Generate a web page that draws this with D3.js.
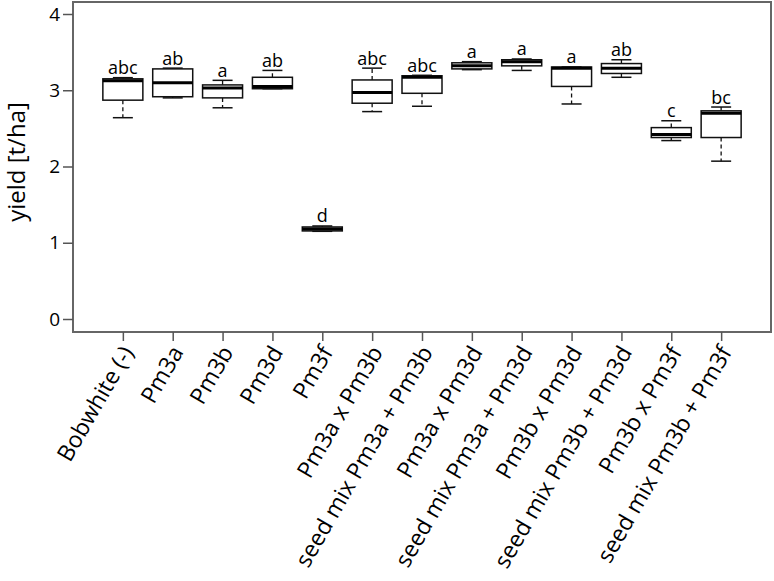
<!DOCTYPE html>
<html>
<head>
<meta charset="utf-8">
<script src="https://cdn.jsdelivr.net/npm/d3@7"></script>
<style>
  html, body { margin: 0; padding: 0; background: #fff; }
  svg { display: block; font-family: "Open Sans", "DejaVu Sans", sans-serif; }
</style>
</head>
<body>
<svg id="chart" width="774" height="581"></svg>
<script>
const categories = ["Bobwhite (-)", "Pm3a", "Pm3b", "Pm3d", "Pm3f", "Pm3a x Pm3b",
  "seed mix Pm3a + Pm3b", "Pm3a x Pm3d", "seed mix Pm3a + Pm3d", "Pm3b x Pm3d",
  "seed mix Pm3b + Pm3d", "Pm3b x Pm3f", "seed mix Pm3b + Pm3f"];
const whiskerLow  = [2.64, 2.90, 2.77, 3.02, 1.15, 2.72, 2.79, 3.27, 3.26, 2.82, 3.17, 2.34, 2.07];
const q1          = [2.87, 2.915, 2.90, 3.02, 1.155, 2.83, 2.96, 3.28, 3.32, 3.05, 3.22, 2.38, 2.38];
const medians     = [3.125, 3.10, 3.03, 3.05, 1.18, 2.97, 3.17, 3.32, 3.375, 3.29, 3.29, 2.42, 2.70];
const q3          = [3.15, 3.28, 3.07, 3.17, 1.207, 3.135, 3.19, 3.36, 3.40, 3.305, 3.35, 2.51, 2.73];
const whiskerHigh = [3.165, 3.29, 3.13, 3.26, 1.22, 3.29, 3.196, 3.375, 3.41, 3.305, 3.40, 2.60, 2.78];
const groupLetters = ["abc", "ab", "a", "ab", "d", "abc", "abc", "a", "a", "a", "ab", "c", "bc"];
const yTicks = [0, 1, 2, 3, 4];
const yTitle = "yield [t/ha]";

(function () {
const svg = d3.select("#chart");
const pL = 73, pR = 771, pT = 2, pB = 332;

const x = d3.scalePoint().domain(categories).range([pL, pR]).padding(1);
const y = d3.scaleLinear().domain([0, 4]).range([319, 14]);

const boxW = 40, capW = 20;

svg.append("rect")
  .attr("x", pL).attr("y", pT)
  .attr("width", pR - pL).attr("height", pB - pT)
  .attr("fill", "none").attr("stroke", "#666").attr("stroke-width", 2);

const yAxis = svg.append("g").attr("transform", `translate(${pL},0)`)
  .call(d3.axisLeft(y).tickValues(yTicks).tickFormat(d3.format("d")).tickSize(10).tickPadding(3));
yAxis.select(".domain").remove();
yAxis.selectAll(".tick line").attr("stroke", "#555").attr("stroke-width", 1.5);
yAxis.selectAll(".tick text").attr("font-size", 19).attr("fill", "#000")
  .attr("font-family", "'Open Sans', sans-serif");

const xAxis = svg.append("g").attr("transform", `translate(0,${pB})`)
  .call(d3.axisBottom(x).tickSize(9).tickPadding(4));
xAxis.select(".domain").remove();
xAxis.selectAll(".tick line").attr("stroke", "#555").attr("stroke-width", 1.5);
xAxis.selectAll(".tick text")
  .attr("font-size", 23).attr("fill", "#000")
  .attr("font-family", "'Open Sans', sans-serif")
  .attr("text-anchor", "end")
  .attr("dy", "0.35em")
  .attr("transform", "translate(4,16) rotate(-60)")
  .attr("y", 0).attr("x", 0);

svg.append("text")
  .attr("transform", `translate(25,162) rotate(-90)`)
  .attr("text-anchor", "middle")
  .attr("font-size", 24).attr("fill", "#000")
  .text(yTitle);

const data = categories.map((c, i) => ({
  c, lo: whiskerLow[i], q1: q1[i], med: medians[i], q3: q3[i], hi: whiskerHigh[i], letter: groupLetters[i]
}));

const g = svg.append("g");
const bx = g.selectAll("g.box").data(data).join("g").attr("class", "box")
  .attr("transform", d => `translate(${x(d.c)},0)`);

bx.append("line").attr("x1", 0).attr("x2", 0)
  .attr("y1", d => y(d.q3)).attr("y2", d => y(d.hi))
  .attr("stroke", "#111").attr("stroke-width", 1.3).attr("stroke-dasharray", "4,3");
bx.append("line").attr("x1", 0).attr("x2", 0)
  .attr("y1", d => y(d.q1)).attr("y2", d => y(d.lo))
  .attr("stroke", "#111").attr("stroke-width", 1.3).attr("stroke-dasharray", "4,3");
bx.append("line").attr("x1", -capW/2).attr("x2", capW/2)
  .attr("y1", d => y(d.hi)).attr("y2", d => y(d.hi))
  .attr("stroke", "#111").attr("stroke-width", 1.5);
bx.append("line").attr("x1", -capW/2).attr("x2", capW/2)
  .attr("y1", d => y(d.lo)).attr("y2", d => y(d.lo))
  .attr("stroke", "#111").attr("stroke-width", 1.5);
bx.append("rect").attr("x", -boxW/2).attr("width", boxW)
  .attr("y", d => y(d.q3)).attr("height", d => Math.max(0.5, y(d.q1) - y(d.q3)))
  .attr("fill", "#fff").attr("stroke", "#111").attr("stroke-width", 1.5);
bx.append("line").attr("x1", -boxW/2).attr("x2", boxW/2)
  .attr("y1", d => y(d.med)).attr("y2", d => y(d.med))
  .attr("stroke", "#000").attr("stroke-width", 3);
bx.append("text").attr("text-anchor", "middle")
  .attr("y", d => y(d.hi) - 3.5)
  .attr("font-size", 18).attr("fill", "#000")
  .text(d => d.letter);
})();
</script>
</body>
</html>
